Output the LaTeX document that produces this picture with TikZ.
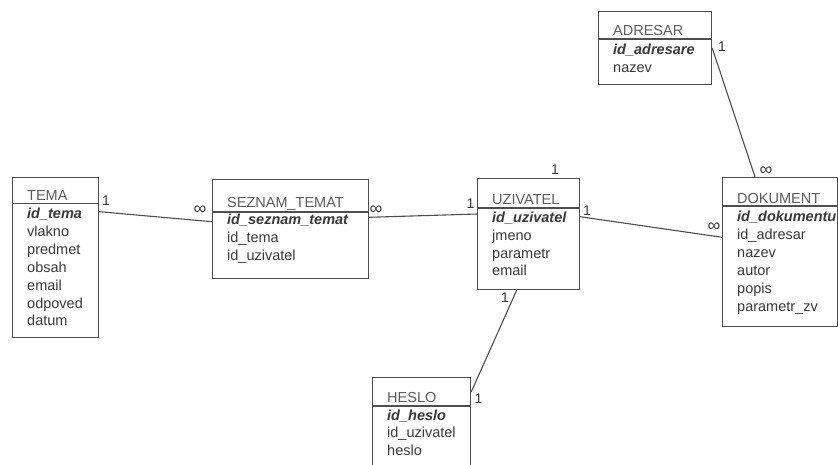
\documentclass[tikz,border=0pt]{standalone}
\usepackage{fontspec}
\setmainfont{Liberation Sans}
\usetikzlibrary{calc}

\definecolor{ink}{HTML}{3A3A3A}
\definecolor{frame}{HTML}{4E4E4E}
\definecolor{headtext}{HTML}{5C5C5C}

\tikzset{
  x=1pt, y=-1pt,
  ebox/.style={draw=frame, line width=1.2pt, inner sep=0pt, rectangle},
  erule/.style={draw=frame, line width=1.1pt},
  rel/.style={draw=frame, line width=1.1pt},
  etitle/.style={inner sep=0pt, anchor=base west, text=headtext, font=\fontsize{14.5}{16}\selectfont},
  ekey/.style={inner sep=0pt, anchor=base west, text=ink, font=\fontsize{14.5}{16}\selectfont\bfseries\itshape},
  efield/.style={inner sep=0pt, anchor=base west, text=ink, font=\fontsize{14.5}{16}\selectfont},
  card/.style={inner sep=0pt, text=ink, font=\fontsize{14}{16}\selectfont},
  many/.style={inner sep=0pt, text=ink, font=\fontsize{18}{18}\selectfont},
}

% entity frame: name, left, top, right, bottom, header rule y
\newcommand\entityframe[6]{%
  \pgfmathsetmacro\entw{#4-#2}%
  \pgfmathsetmacro\enth{#5-#3}%
  \node[ebox, minimum width=\entw pt, minimum height=\enth pt, anchor=north west] (#1) at (#2,#3) {};
  \draw[erule] (#1.west |- 0,#6) -- (#1.east |- 0,#6);
}
% attribute rows below the key: name, x, first baseline, list
\newcommand\entityfields[4]{%
  \foreach \fld [count=\i] in {#4} {
    \node[efield] (#1-\i) at (#2, #3+\i*17.8) {\fld};
  }
}

\begin{document}
\begin{tikzpicture}
\clip (0,0) rectangle (838,465);
\fill[white] (0,0) rectangle (838,465);

% TEMA
\entityframe{tema}{12}{177}{98}{337}{203.5}
\node[etitle] (tema-title) at (27,201) {TEMA};
\node[ekey] (tema-key) at (27,219) {id\_tema};
\entityfields{tema}{27}{219}{vlakno,predmet,obsah,email,odpoved,datum}

% SEZNAM_TEMAT
\entityframe{seznam}{212}{179}{368}{278}{212}
\node[etitle] (seznam-title) at (227,207.5) {SEZNAM\_TEMAT};
\node[ekey] (seznam-key) at (227,225) {id\_seznam\_temat};
\entityfields{seznam}{227}{225}{id\_tema,id\_uzivatel}

% UZIVATEL
\entityframe{uzivatel}{477}{178}{579}{289}{208}
\node[etitle] (uzivatel-title) at (492,205) {UZIVATEL};
\node[ekey] (uzivatel-key) at (492,222.5) {id\_uzivatel};
\entityfields{uzivatel}{492}{222.5}{jmeno,parametr,email}

% DOKUMENT
\entityframe{dokument}{722}{177}{837}{326}{206}
\node[etitle] (dokument-title) at (737,203.5) {DOKUMENT};
\node[ekey] (dokument-key) at (737,222) {id\_dokumentu};
\entityfields{dokument}{737}{222}{id\_adresar,nazev,autor,popis,parametr\_zv}

% ADRESAR
\entityframe{adresar}{598}{11}{711}{84}{39}
\node[etitle] (adresar-title) at (613,36) {ADRESAR};
\node[ekey] (adresar-key) at (613,55) {id\_adresare};
\entityfields{adresar}{613}{55}{nazev}

% HESLO
\entityframe{heslo}{372}{377}{470}{472}{406}
\node[etitle] (heslo-title) at (387,402) {HESLO};
\node[ekey] (heslo-key) at (387,420) {id\_heslo};
\entityfields{heslo}{387}{420}{id\_uzivatel,heslo}

% relationships
\draw[rel] (tema.east |- 0,211.7) -- (seznam.west |- 0,221.7);
\draw[rel] (seznam.east |- 0,217.3) -- (uzivatel.west |- 0,214);
\draw[rel] (uzivatel.east |- 0,216.7) -- (dokument.west |- 0,237.3);
\draw[rel] (adresar.east |- 0,48) -- (dokument.north -| 755,0);
\draw[rel] (uzivatel.south -| 516.7,0) -- (heslo.east |- 0,392);

% cardinalities
\node[card] (c-tema) at (106,201) {1};
\node[many] (c-seznam-l) at (200,210.5) {∞};
\node[many] (c-seznam-r) at (376,210) {∞};
\node[card] (c-uziv-l) at (470.5,203.5) {1};
\node[card] (c-uziv-r) at (587,210.5) {1};
\node[card] (c-uziv-t) at (555,170) {1};
\node[card] (c-uziv-b) at (505,298) {1};
\node[many] (c-dok-l) at (714,227.5) {∞};
\node[many] (c-dok-t) at (766,171.5) {∞};
\node[card] (c-adresar) at (722,47) {1};
\node[card] (c-heslo) at (478.5,399) {1};
\end{tikzpicture}
\end{document}
